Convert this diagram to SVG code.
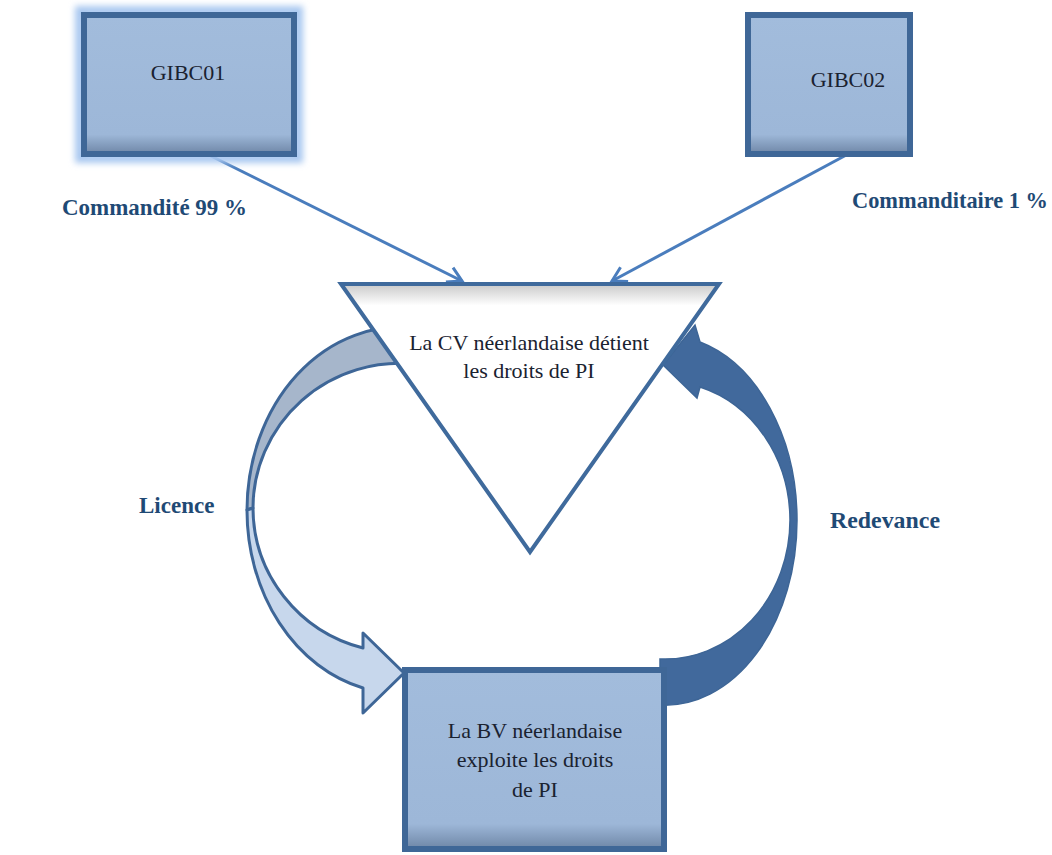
<svg xmlns="http://www.w3.org/2000/svg" width="1052" height="855" viewBox="0 0 1052 855">
<style>
.box{stroke:#3f6797;stroke-width:6;fill:url(#boxfill)}
.btxt{font-family:"Liberation Serif",serif;font-size:22px;fill:#1a2230;text-anchor:middle}
.lbl{font-family:"Liberation Serif",serif;font-size:23px;font-weight:bold;fill:#1f4a75}
.conn{stroke:#4a7dbd;stroke-width:3;fill:none}
.band{stroke:#3e6697;stroke-width:3;stroke-linejoin:round}
</style>
<defs>
<linearGradient id="boxfill" x1="0" y1="0" x2="0" y2="1">
<stop offset="0" stop-color="#a2bcdc"/>
<stop offset="0.86" stop-color="#9db7d8"/>
<stop offset="1" stop-color="#6e86a6"/>
</linearGradient>
<linearGradient id="trishade" x1="0" y1="0" x2="0" y2="1">
<stop offset="0" stop-color="#c9c9c9"/>
<stop offset="0.08" stop-color="#ffffff"/>
<stop offset="1" stop-color="#ffffff"/>
</linearGradient>
<filter id="glow" x="-20%" y="-20%" width="140%" height="140%">
<feGaussianBlur stdDeviation="3"/>
</filter>
<marker id="vhead" markerUnits="userSpaceOnUse" markerWidth="22" markerHeight="22" viewBox="0 0 22 22" refX="19" refY="11" orient="auto">
<path d="M5,3 L19,11 L5,19" fill="none" stroke="#4a7dbd" stroke-width="3"/>
</marker>
</defs>
<rect width="1052" height="855" fill="#ffffff"/>

<g id="connectors">
<line class="conn" x1="205" y1="153" x2="462" y2="281" marker-end="url(#vhead)"/>
<line class="conn" x1="850" y1="153" x2="612" y2="281" marker-end="url(#vhead)"/>
<g id="licence-arrow">
<path class="band" fill="#a6b6cb" d="M 415 328 A 153 183 0 0 0 247 510 L 253 508 A 147 145 0 0 1 415 364 Z"/>
<path class="band" fill="#c7d7ec" d="M 247 510 A 153 183 0 0 0 363 688 L 363 713 L 404 673 L 363 633 L 363 648 A 147 145 0 0 1 253 508 Z"/>
</g>
<g id="redevance-arrow">
<path fill="#41699c" stroke="#3d6596" stroke-width="1.5" d="M 660 705 A 132 185 0 0 0 797 520 A 132 185 0 0 0 700 342 L 695 325 L 663 365 L 697 398 L 700 387 A 125 139 0 0 1 790 520 A 125 139 0 0 1 660 659 Z"/>
</g>
</g>

<g id="gibc01">
<rect x="80" y="11" width="218" height="147" fill="none" stroke="#a9c8f0" stroke-width="10" filter="url(#glow)"/>
<rect class="box" x="84" y="15" width="210" height="139"/>
<text class="btxt" x="188" y="80">GIBC01</text>
</g>

<g id="gibc02">
<rect class="box" x="748" y="15" width="162" height="139"/>
<text class="btxt" x="848" y="87">GIBC02</text>
</g>

<g id="cv">
<polygon points="341,284 719,284 530,552" fill="url(#trishade)" stroke="#3f6a9c" stroke-width="4" stroke-linejoin="miter"/>
<text class="btxt" x="529" y="350" fill="#2b3d55">La CV néerlandaise détient</text>
<text class="btxt" x="529" y="378" fill="#2b3d55">les droits de PI</text>
</g>

<g id="bv">
<rect class="box" x="405" y="670" width="259" height="179"/>
<text class="btxt" x="535" y="738">La BV néerlandaise</text>
<text class="btxt" x="535" y="767">exploite les droits</text>
<text class="btxt" x="535" y="797">de PI</text>
</g>

<g id="labels">
<text class="lbl" x="62" y="215" textLength="185" lengthAdjust="spacingAndGlyphs">Commandité 99 %</text>
<text class="lbl" x="852" y="208" textLength="196" lengthAdjust="spacingAndGlyphs">Commanditaire 1 %</text>
<text class="lbl" x="139" y="513">Licence</text>
<text class="lbl" x="830" y="528" textLength="110" lengthAdjust="spacingAndGlyphs">Redevance</text>
</g>
</svg>
